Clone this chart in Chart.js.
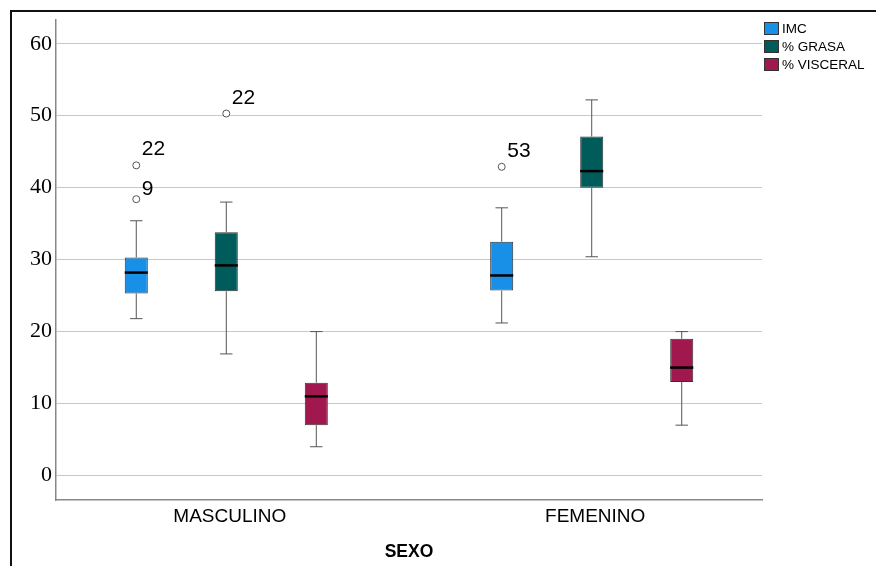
<!DOCTYPE html>
<html>
<head>
<meta charset="utf-8">
<script src="https://cdn.jsdelivr.net/npm/chart.js@4"></script>
<style>
  body { margin: 0; background: #fff; }
  #wrap { position: relative; width: 876px; height: 566px; }
  #frame {
    position: absolute; left: 10px; top: 10px; width: 866px; height: 556px;
    border-top: 2px solid #111; border-left: 2px solid #111; box-sizing: border-box;
    pointer-events: none;
  }
</style>
</head>
<body>
<div id="wrap">
  <canvas id="boxChart" width="876" height="566"></canvas>
  <div id="frame"></div>
</div>
<script>
const categories = ["MASCULINO", "FEMENINO"];
const seriesNames = ["IMC", "% GRASA", "% VISCERAL"];
const seriesColors = ["#1990e8", "#005b5b", "#a0184e"];
const yTicks = [0, 10, 20, 30, 40, 50, 60];

// per series: [MASCULINO, FEMENINO]
const whiskerLow = [[21.8, 21.2], [16.9, 30.4], [4.0, 7.0]];
const q1 = [[25.3, 25.7], [25.6, 40.0], [7.0, 13.0]];
const median = [[28.2, 27.8], [29.2, 42.3], [11.0, 15.0]];
const q3 = [[30.3, 32.5], [33.8, 47.1], [12.9, 19.0]];
const whiskerHigh = [[35.4, 37.2], [38.0, 52.2], [20.0, 20.0]];

// outliers
const outlierSeries = [0, 0, 1, 0];
const outlierCategory = [0, 0, 0, 1];
const outlierValues = [43.1, 38.4, 50.3, 42.9];
const outlierLabels = ["22", "9", "22", "53"];

const boxExtras = {
  id: "boxExtras",
  afterDatasetsDraw(chart, args, opts) {
    const ctx = chart.ctx;
    const y = chart.scales.y;
    ctx.save();
    chart.data.datasets.forEach((ds, s) => {
      const meta = chart.getDatasetMeta(s);
      meta.data.forEach((bar, c) => {
        const x = bar.x;
        const half = bar.width / 2;
        const cap = bar.width * 0.27;
        const pLow = y.getPixelForValue(whiskerLow[s][c]);
        const pHigh = y.getPixelForValue(whiskerHigh[s][c]);
        const pQ1 = y.getPixelForValue(q1[s][c]);
        const pQ3 = y.getPixelForValue(q3[s][c]);
        const pMed = y.getPixelForValue(median[s][c]);

        ctx.strokeStyle = "#555";
        ctx.lineWidth = 1;
        ctx.beginPath();
        ctx.moveTo(x, pQ3); ctx.lineTo(x, pHigh);
        ctx.moveTo(x - cap, pHigh); ctx.lineTo(x + cap, pHigh);
        ctx.moveTo(x, pQ1); ctx.lineTo(x, pLow);
        ctx.moveTo(x - cap, pLow); ctx.lineTo(x + cap, pLow);
        ctx.stroke();

        ctx.strokeStyle = "#000";
        ctx.lineWidth = 2.5;
        ctx.beginPath();
        ctx.moveTo(x - half, pMed); ctx.lineTo(x + half, pMed);
        ctx.stroke();
      });
    });

    ctx.font = "21px 'Liberation Sans', Arial, sans-serif";
    ctx.textAlign = "left";
    ctx.textBaseline = "alphabetic";
    outlierValues.forEach((v, i) => {
      const bar = chart.getDatasetMeta(outlierSeries[i]).data[outlierCategory[i]];
      const cx = bar.x;
      const cy = y.getPixelForValue(v);
      ctx.beginPath();
      ctx.arc(cx, cy, 3.5, 0, Math.PI * 2);
      ctx.fillStyle = "#fff";
      ctx.fill();
      ctx.strokeStyle = "#555";
      ctx.lineWidth = 1;
      ctx.stroke();
      ctx.fillStyle = "#000";
      ctx.fillText(outlierLabels[i], cx + 5.5, cy + opts.labelDy[i]);
    });
    ctx.restore();
  },
  afterDraw(chart) {
    const ctx = chart.ctx;
    ctx.save();
    ctx.font = "13.5px 'Liberation Sans', Arial, sans-serif";
    ctx.textBaseline = "middle";
    ctx.textAlign = "left";
    seriesNames.forEach((name, i) => {
      const top = 22 + i * 18;
      ctx.fillStyle = seriesColors[i];
      ctx.fillRect(764, top, 15, 13);
      ctx.strokeStyle = "#333";
      ctx.lineWidth = 1;
      ctx.strokeRect(764.5, top + 0.5, 14, 12);
      ctx.fillStyle = "#000";
      ctx.fillText(name, 782, top + 7);
    });
    ctx.restore();
  }
};

new Chart(document.getElementById("boxChart"), {
  type: "bar",
  data: {
    datasets: seriesNames.map((name, s) => ({
      label: name,
      data: categories.map((c, i) => ({ x: i, y: [q1[s][i], q3[s][i]] })),
      backgroundColor: seriesColors[s],
      borderColor: "#333",
      borderWidth: 1,
      borderSkipped: false,
      categoryPercentage: 0.739,
      barPercentage: 0.256
    }))
  },
  options: {
    responsive: false,
    animation: false,
    devicePixelRatio: 1,
    layout: { padding: { top: 20, right: 114, bottom: 0, left: 0 } },
    plugins: {
      legend: { display: false },
      tooltip: { enabled: false },
      boxExtras: { labelDy: [-10, -4, -10, -10] }
    },
    scales: {
      x: {
        type: "linear",
        min: -0.466,
        max: 1.466,
        offset: false,
        afterBuildTicks: (scale) => { scale.ticks = categories.map((c, i) => ({ value: i })); },
        afterFit: (scale) => { scale.height = 66; },
        ticks: {
          callback: (v) => categories[v] ?? "",
          font: { family: "'Liberation Sans', Arial, sans-serif", size: 19 },
          color: "#000",
          padding: 5,
          labelOffset: 3.5,
          maxRotation: 0,
          autoSkip: false
        },
        grid: { display: false, drawTicks: false, offset: false },
        border: { display: true, color: "#888", width: 1.5 },
        title: {
          display: true,
          text: "SEXO",
          color: "#000",
          font: { family: "'Liberation Sans', Arial, sans-serif", size: 17.5, weight: "bold" },
          padding: { top: 0, bottom: 3 }
        }
      },
      y: {
        min: -3.4,
        max: 63.3,
        afterBuildTicks: (scale) => { scale.ticks = yTicks.map((v) => ({ value: v })); },
        afterFit: (scale) => { scale.width = 56; },
        ticks: {
          font: { family: "'Liberation Serif', 'Times New Roman', serif", size: 22 },
          color: "#000",
          padding: 4
        },
        grid: { color: "#c8c8c8", lineWidth: 1, drawTicks: false },
        border: { display: true, color: "#888", width: 1.5 }
      }
    }
  },
  plugins: [boxExtras]
});
</script>
</body>
</html>
